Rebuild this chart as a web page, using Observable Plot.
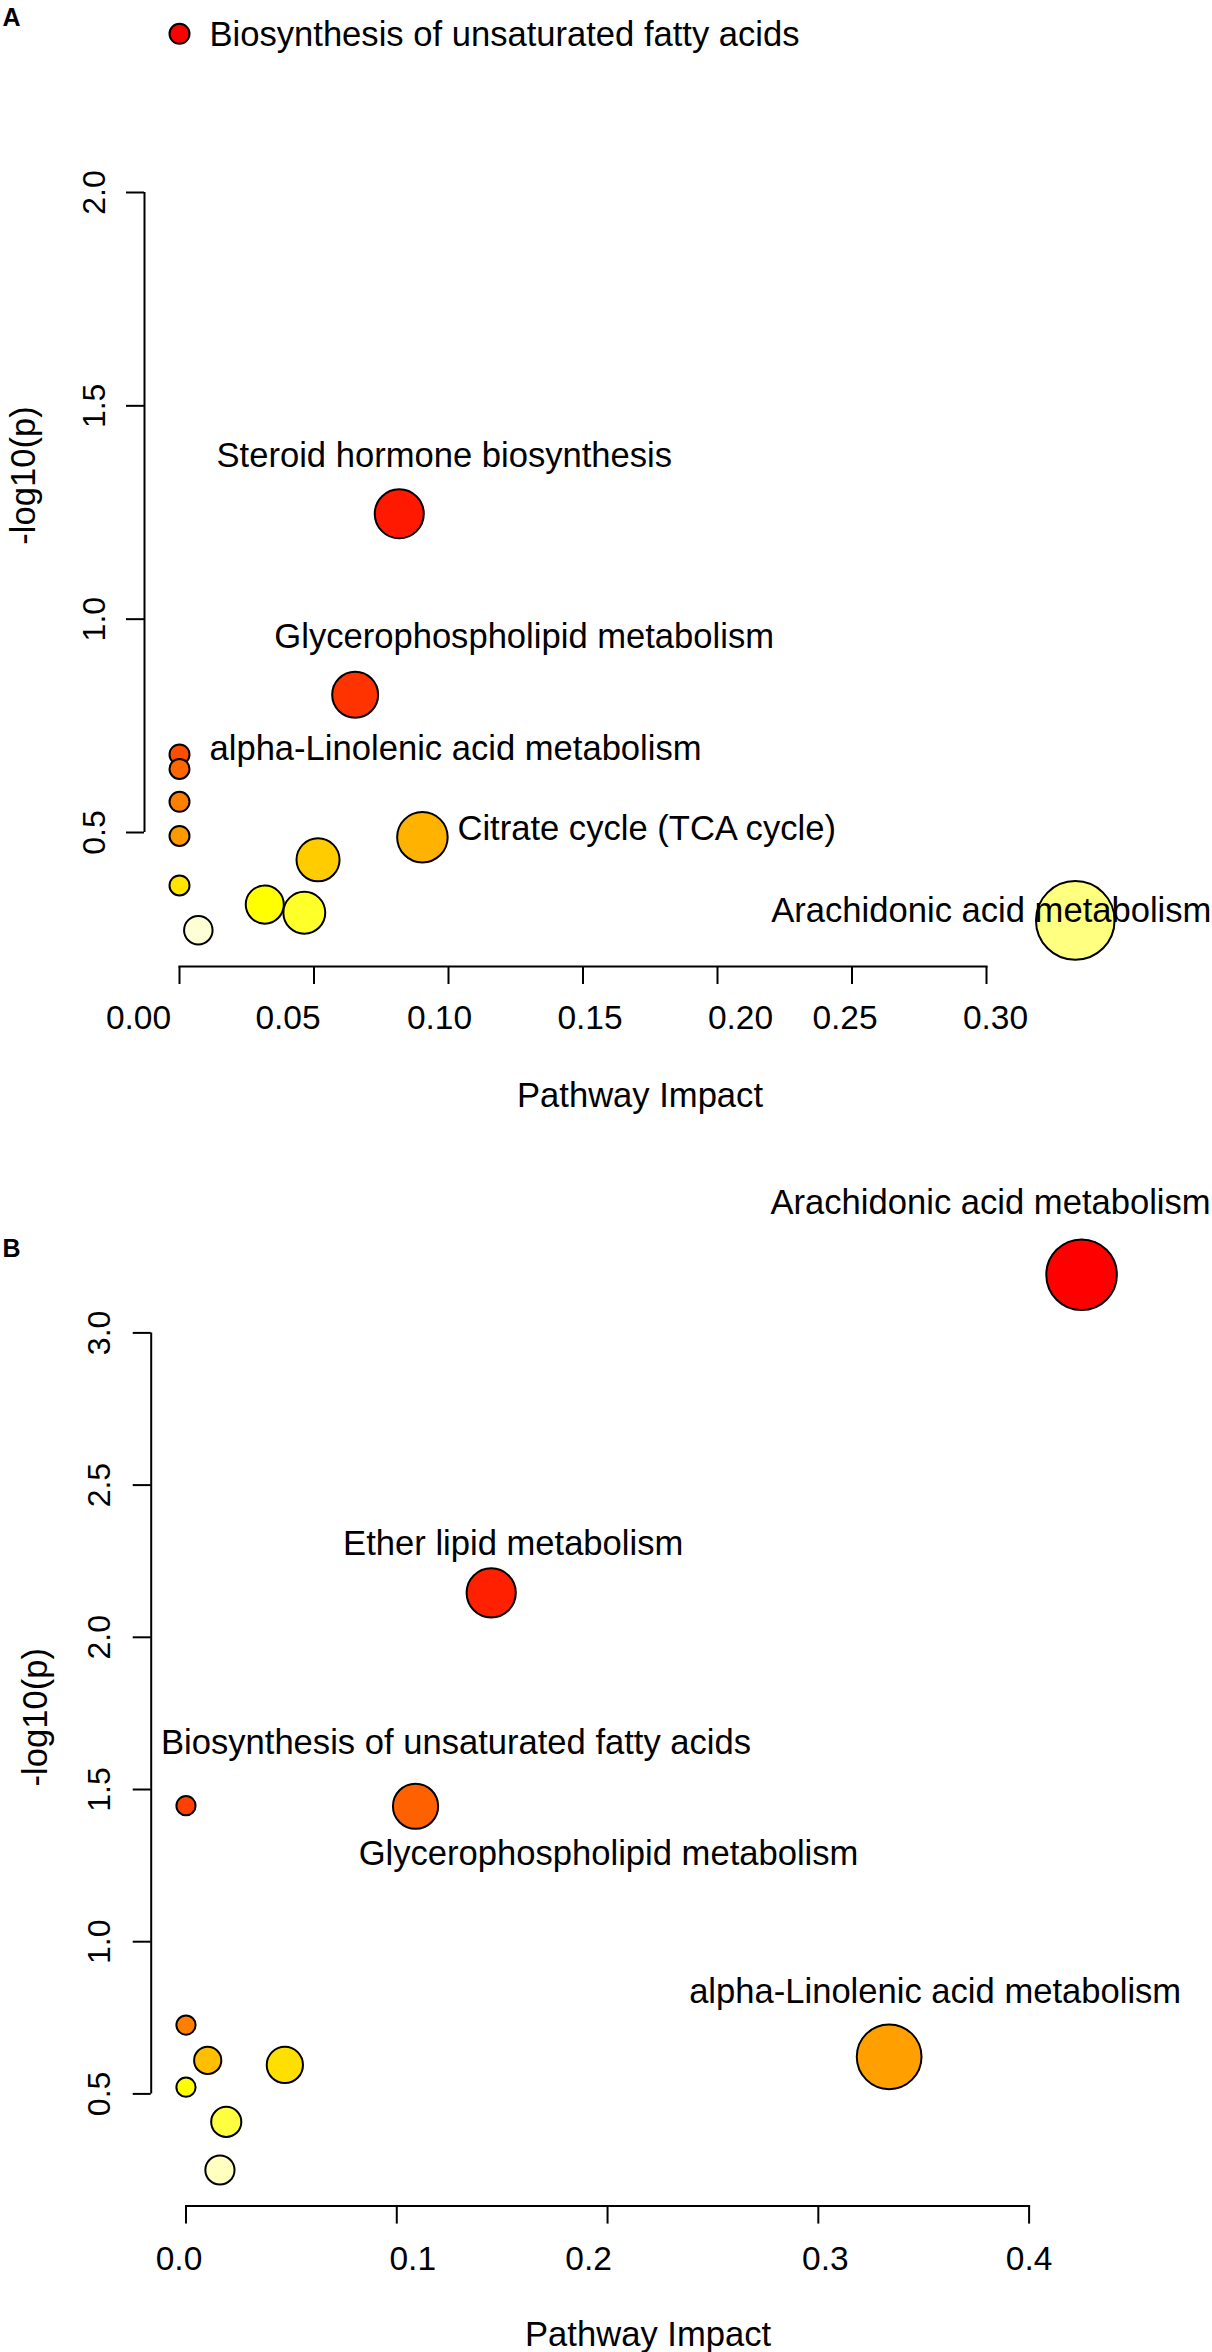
<!DOCTYPE html>
<html>
<head>
<meta charset="utf-8">
<script src="https://cdn.jsdelivr.net/npm/d3@7"></script>
<script src="https://cdn.jsdelivr.net/npm/@observablehq/plot@0.6"></script>
<style>
  html, body { margin: 0; padding: 0; background: #ffffff; }
  svg { display: block; }
</style>
</head>
<body>
<div id="chart"></div>
<script>
// ---------------- Panel A data ----------------
const namesA = [
  "Biosynthesis of unsaturated fatty acids",
  "Steroid hormone biosynthesis",
  "Glycerophospholipid metabolism",
  "alpha-Linolenic acid metabolism",
  null, null, null,
  "Citrate cycle (TCA cycle)",
  null, null, null, null,
  "Arachidonic acid metabolism",
  null
];
const impactA = [0, 0.0817, 0.0653, 0, 0, 0, 0, 0.0903, 0.0515, 0, 0.0317, 0.0464, 0.333, 0.0070];
const logpA   = [2.372, 1.247, 0.823, 0.683, 0.649, 0.572, 0.492, 0.489, 0.436, 0.376, 0.331, 0.312, 0.294, 0.271];
const xTicksA = [0, 0.05, 0.10, 0.15, 0.20, 0.25, 0.30];
const yTicksA = [0.5, 1.0, 1.5, 2.0];

// ---------------- Panel B data ----------------
const namesB = [
  "Arachidonic acid metabolism",
  "Ether lipid metabolism",
  "Biosynthesis of unsaturated fatty acids",
  "Glycerophospholipid metabolism",
  null,
  "alpha-Linolenic acid metabolism",
  null, null, null, null, null
];
const impactB = [0.4249, 0.1448, 0, 0.1089, 0, 0.3336, 0.0103, 0.0469, 0, 0.0191, 0.0161];
const logpB   = [3.191, 2.146, 1.447, 1.445, 0.726, 0.622, 0.610, 0.595, 0.522, 0.408, 0.250];
const xTicksB = [0, 0.1, 0.2, 0.3, 0.4];
const yTicksB = [0.5, 1.0, 1.5, 2.0, 2.5, 3.0];

// ---------------- helpers ----------------
// R's heat.colors(n)
function hsvHex(h, s, v) {
  const i = Math.floor(h * 6 + 1e-9), f = h * 6 - i;
  const p = v * (1 - s), q = v * (1 - f * s), t = v * (1 - (1 - f) * s);
  let r, g, b;
  switch (((i % 6) + 6) % 6) {
    case 0: r = v; g = t; b = p; break;
    case 1: r = q; g = v; b = p; break;
    case 2: r = p; g = v; b = t; break;
    case 3: r = p; g = q; b = v; break;
    case 4: r = t; g = p; b = v; break;
    default: r = v; g = p; b = q;
  }
  return d3.rgb(r * 255, g * 255, b * 255).formatHex();
}
function heatColors(n) {
  const j = Math.floor(n / 4), i = n - j, out = [];
  for (let k = 0; k < i; k++) out.push(hsvHex(i > 1 ? (k / (i - 1)) / 6 : 0, 1, 1));
  const s0 = 1 - 1 / (2 * j), s1 = 1 / (2 * j);
  for (let k = 0; k < j; k++) out.push(hsvHex(1 / 6, j > 1 ? s0 + k * (s1 - s0) / (j - 1) : s0, 1));
  return out;
}
function buildData(names, impact, logp) {
  const rows = names.map((name, i) => ({name, impact: impact[i], logp: logp[i]}));
  const order = d3.range(rows.length).sort((a, b) => rows[b].logp - rows[a].logp);
  order.forEach((idx, rank) => rows[idx].rank = rank);
  return order.map(i => rows[i]);  // draw in order of significance
}

const FONT = "'Liberation Sans', Arial, Helvetica, sans-serif";
const LABEL_SIZE = 34.6;

function panel(cfg) {
  const data = buildData(cfg.names, cfg.impact, cfg.logp);
  const n = data.length;
  const labelMarks = Object.entries(cfg.labelLayout).map(([name, lay]) =>
    Plot.text(data.filter(d => d.name === name), {
      x: "impact", y: "logp", text: "name",
      fontSize: LABEL_SIZE, fill: "black", lineAnchor: "middle", ...lay
    })
  );
  // tick labels (each with the small horizontal nudge seen in the original figure)
  const xTickTextMarks = cfg.xTicks.map((t, i) =>
    Plot.text([t], {x: d => d, text: d => d.toFixed(cfg.xDigits), frameAnchor: "bottom",
      dx: cfg.xTickNudge[i], dy: cfg.xTickDy, fontSize: 33.5, lineAnchor: "middle"})
  );
  return Plot.plot({
    width: 1212,
    height: cfg.height,
    marginLeft: cfg.marginLeft,
    marginRight: cfg.marginRight,
    marginTop: 0,
    marginBottom: cfg.marginBottom,
    style: {fontFamily: FONT, background: "white", color: "black", overflow: "visible"},
    x: {domain: [cfg.xTicks[0], cfg.xTicks[cfg.xTicks.length - 1]]},
    y: {domain: [cfg.yTicks[0], cfg.yTicks[cfg.yTicks.length - 1]], range: cfg.yRange},
    r: {type: "sqrt", domain: [0, d3.max(cfg.impact)], range: cfg.rRange},
    color: {type: "ordinal", domain: d3.range(n), range: heatColors(n)},
    marks: [
      // x axis
      Plot.frame({anchor: "bottom", strokeWidth: 2}),
      Plot.axisX(cfg.xTicks, {tickSize: 18, strokeWidth: 2, tickFormat: () => "", label: null}),
      ...xTickTextMarks,
      Plot.text(["Pathway Impact"], {frameAnchor: "bottom", dx: cfg.xLabelDx, dy: cfg.xLabelDy,
        fontSize: LABEL_SIZE, lineAnchor: "middle"}),
      // y axis
      Plot.ruleX([cfg.xTicks[0]], {y1: cfg.yTicks[0], y2: cfg.yTicks[cfg.yTicks.length - 1],
        dx: cfg.yAxisDx, strokeWidth: 2}),
      Plot.axisY(cfg.yTicks, {tickSize: 18, dx: cfg.yAxisDx, strokeWidth: 2, tickFormat: () => "", label: null}),
      Plot.text(cfg.yTicks, {y: d => d, text: d => d.toFixed(1), frameAnchor: "left",
        dx: cfg.yTickDx, rotate: -90, fontSize: 32, lineAnchor: "middle", textAnchor: "middle"}),
      Plot.text(["-log10(p)"], {frameAnchor: "left", dx: cfg.yLabelDx, dy: cfg.yLabelDy,
        rotate: -90, fontSize: LABEL_SIZE, lineAnchor: "middle", textAnchor: "middle"}),
      // panel letter
      Plot.text([cfg.letter], {frameAnchor: "top-left", dx: cfg.letterDx, dy: cfg.letterDy,
        textAnchor: "start", fontWeight: "bold", fontSize: 25, lineAnchor: "middle"}),
      // points
      Plot.dot(data, {x: "impact", y: "logp", r: "impact", fill: "rank",
        stroke: "black", strokeWidth: 2, sort: null}),
      ...labelMarks
    ]
  });
}

const chartA = panel({
  letter: "A",
  names: namesA, impact: impactA, logp: logpA,
  xTicks: xTicksA, yTicks: yTicksA, xDigits: 2,
  xTickNudge: [-41, -26, -9, 7, 23, -7, 9],
  height: 1150, marginLeft: 179, marginRight: 226, marginBottom: 184,
  yRange: [832, 192],
  rRange: [10, 39.3],
  yAxisDx: -35, yTickDx: -85, yLabelDx: -156, yLabelDy: -8,
  xTickDy: 52, xLabelDx: 57, xLabelDy: 129,
  letterDx: -177, letterDy: 17,
  labelLayout: {
    "Biosynthesis of unsaturated fatty acids": {textAnchor: "start", dx: 30, dy: 1},
    "Steroid hormone biosynthesis": {textAnchor: "middle", dx: 45, dy: -58},
    "Glycerophospholipid metabolism": {textAnchor: "middle", dx: 169, dy: -58},
    "alpha-Linolenic acid metabolism": {textAnchor: "start", dx: 30, dy: -5},
    "Citrate cycle (TCA cycle)": {textAnchor: "start", dx: 35, dy: -8},
    "Arachidonic acid metabolism": {textAnchor: "start", dx: -304, dy: -9}
  }
});

const chartB = panel({
  letter: "B",
  names: namesB, impact: impactB, logp: logpB,
  xTicks: xTicksB, yTicks: yTicksB, xDigits: 1,
  xTickNudge: [-7, 16, -19, 7, 0],
  height: 1202, marginLeft: 185.5, marginRight: 183.4, marginBottom: 146.4,
  yRange: [943.4, 182.4],
  rRange: [9.6, 35.3],
  yAxisDx: -34.8, yTickDx: -86.5, yLabelDx: -150.5, yLabelDy: 39,
  xTickDy: 53.4, xLabelDx: 40.5, xLabelDy: 128.4,
  letterDx: -183.5, letterDy: 98,
  labelLayout: {
    "Arachidonic acid metabolism": {textAnchor: "middle", dx: -91, dy: -72},
    "Ether lipid metabolism": {textAnchor: "middle", dx: 22, dy: -49},
    "Biosynthesis of unsaturated fatty acids": {textAnchor: "start", dx: -25, dy: -63},
    "Glycerophospholipid metabolism": {textAnchor: "middle", dx: 193, dy: 48},
    "alpha-Linolenic acid metabolism": {textAnchor: "middle", dx: 46, dy: -65}
  }
});

const root = document.getElementById("chart");
root.appendChild(chartA);
root.appendChild(chartB);
</script>
</body>
</html>
